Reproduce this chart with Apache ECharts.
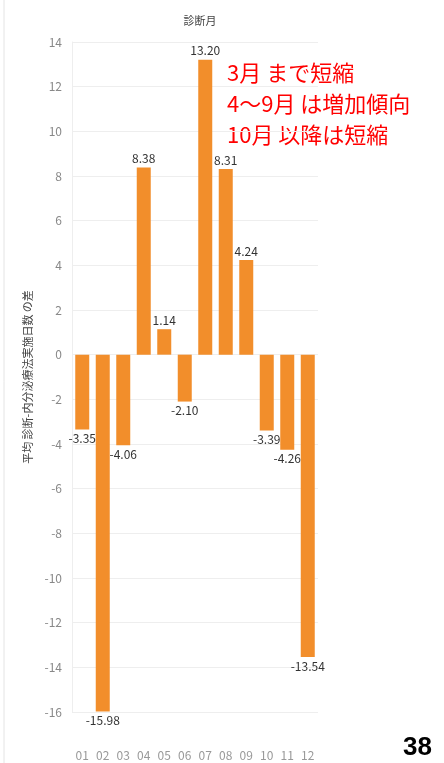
<!DOCTYPE html>
<html>
<head>
<meta charset="utf-8">
<script src="https://cdn.jsdelivr.net/npm/echarts@6/dist/echarts.min.js"></script>
<style>
html, body { margin: 0; padding: 0; background: #fff; }
#chart { width: 444px; height: 763px; }
</style>
</head>
<body>
<div id="chart"></div>
<script>
// 月（カテゴリ）
let months = ["01", "02", "03", "04", "05", "06", "07", "08", "09", "10", "11", "12"];
// 平均 診断-内分泌療法実施日数 の差
let diffDays = [-3.35, -15.98, -4.06, 8.38, 1.14, -2.10, 13.20, 8.31, 4.24, -3.39, -4.26, -13.54];
// 注釈
let noteLines = ["3月 まで短縮", "4〜9月 は増加傾向", "10月 以降は短縮"];

let font = "'Noto Sans CJK JP', 'Noto Sans', sans-serif";

let myChart = echarts.init(document.getElementById("chart"));

// 正の値は上、負の値は下にラベル
let barData = diffDays.map(function (v) {
    return {
        value: v,
        label: { position: v >= 0 ? "top" : "bottom" }
    };
});

let option = {
    animation: false,
    title: {
        text: "診断月",
        left: 195,
        top: 10,
        textAlign: "center",
        textStyle: { fontSize: 11, fontWeight: "normal", color: "#444", fontFamily: font }
    },
    grid: {
        left: 72,
        right: 126,
        top: 42,
        bottom: 51
    },
    xAxis: {
        type: "category",
        data: months,
        axisLine: { show: false },
        axisTick: { show: false },
        axisLabel: { color: "#999", fontSize: 12, margin: 37, fontFamily: font }
    },
    yAxis: {
        type: "value",
        min: -16,
        max: 14,
        interval: 2,
        name: "平均 診断-内分泌療法実施日数 の差",
        nameLocation: "middle",
        nameGap: 37,
        nameTextStyle: { fontSize: 11, color: "#444", fontFamily: font },
        axisLine: { show: true, lineStyle: { color: "#eee" } },
        axisTick: { show: false },
        axisLabel: { color: "#888", fontSize: 12, margin: 10, fontFamily: font },
        splitLine: { lineStyle: { color: "#eee" } }
    },
    series: [
        {
            type: "bar",
            data: barData,
            barWidth: 14,
            itemStyle: { color: "#F28E2B" },
            label: {
                show: true,
                formatter: function (p) { return p.value.toFixed(2); },
                color: "#333",
                fontSize: 12,
                distance: 3,
                fontFamily: font
            }
        }
    ],
    graphic: [
        {
            type: "text",
            left: 227,
            top: 57,
            style: {
                text: noteLines.join("\n"),
                fill: "#ff0000",
                fontSize: 22,
                lineHeight: 31,
                fontFamily: font
            }
        },
        {
            type: "text",
            left: 403,
            top: 735,
            style: {
                text: "38",
                fill: "#000",
                fontSize: 26,
                fontWeight: "bold",
                fontFamily: "'Liberation Sans', sans-serif"
            }
        },
        {
            type: "line",
            shape: { x1: 4, y1: 0, x2: 4, y2: 763 },
            style: { stroke: "#e4e4e4", lineWidth: 1 }
        }
    ]
};

myChart.setOption(option, true);
</script>
</body>
</html>
